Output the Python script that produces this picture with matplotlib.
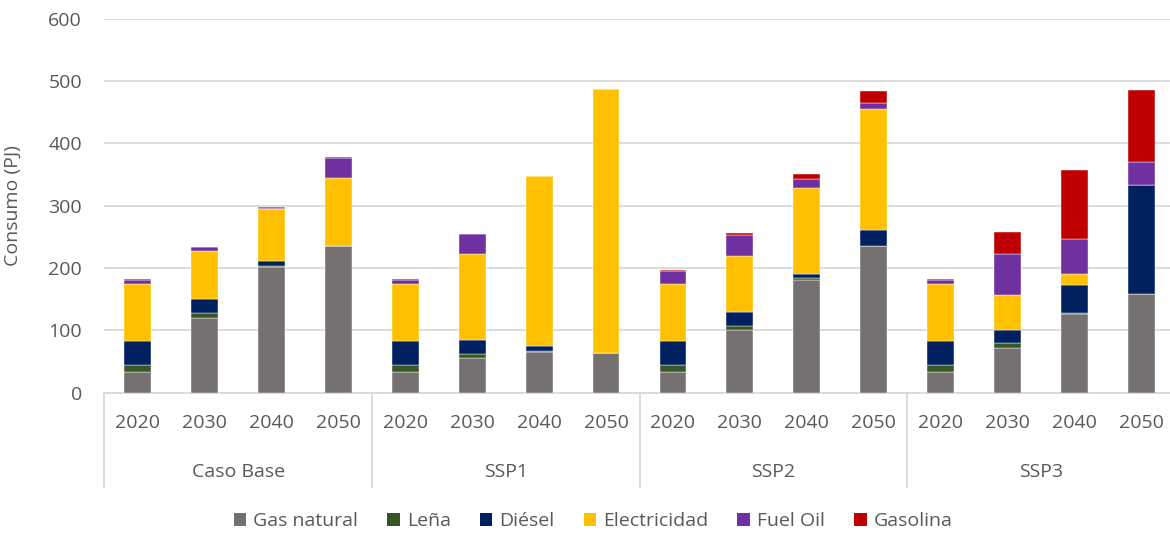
import matplotlib
matplotlib.use("Agg")
import matplotlib.pyplot as plt
from matplotlib.patches import Patch
from matplotlib.lines import Line2D
import numpy as np

plt.rcParams['font.family'] = ['Open Sans', 'DejaVu Sans']

# Scenarios and years on the two-level category axis
scenarios = ["Caso Base", "SSP1", "SSP2", "SSP3"]
years = ["2020", "2030", "2040", "2050"]

# Consumption by fuel (PJ), one value per scenario-year, in axis order
gas_natural = [33, 120, 201, 235, 33, 55, 65, 63, 33, 100, 181, 235, 33, 72, 126, 158]
lena = [11, 7, 3, 0, 11, 7, 2, 0, 11, 7, 3, 0, 11, 7, 1, 0]
diesel = [38, 23, 7, 0, 38, 23, 7, 0, 38, 23, 7, 26, 38, 22, 45, 176]
electricidad = [93, 78, 83, 110, 93, 138, 273, 424, 93, 89, 137, 195, 93, 56, 19, 0]
fuel_oil = [5, 5, 3, 31, 5, 31, 1, 0, 20, 34, 15, 9, 5, 65, 55, 37]
gasolina = [3, 1, 1, 2, 3, 1, 0.5, 0, 2, 3, 8, 20, 3, 36, 111, 115]

series = [
    ("Gas natural", gas_natural, "#767171"),
    ("Leña", lena, "#375623"),
    ("Diésel", diesel, "#002060"),
    ("Electricidad", electricidad, "#FFC000"),
    ("Fuel Oil", fuel_oil, "#7030A0"),
    ("Gasolina", gasolina, "#C00000"),
]

W, H = 1170, 533
fig = plt.figure(figsize=(W / 100, H / 100), dpi=100)
ax_left, ax_right = 104.3, 1174.7
ax_top, ax_bot = 19.0, 392.5
ax = fig.add_axes([ax_left / W, 1 - ax_bot / H, (ax_right - ax_left) / W, (ax_bot - ax_top) / H])

text_color = "#595959"
grid_color = "#d9d9d9"
fs = 14

n = len(scenarios) * len(years)
x = np.arange(n)
bottom = np.zeros(n)
for name, vals, col in series:
    v = np.array(vals, dtype=float)
    ax.bar(x, v, width=0.40, bottom=bottom, color=col, edgecolor="white",
           linewidth=0.3, zorder=3)
    bottom += v

ax.set_xlim(-0.5, n - 0.5)
ax.set_ylim(0, 600)
ax.set_yticks(range(0, 601, 100))
ax.tick_params(axis="y", length=0, pad=16, labelsize=fs, labelcolor=text_color)
ax.set_xticks([])
for s in ["top", "right", "left"]:
    ax.spines[s].set_visible(False)
ax.spines["bottom"].set_color(grid_color)
ax.spines["bottom"].set_linewidth(1.3)
ax.grid(axis="y", color=grid_color, linewidth=1.3, zorder=0)
ax.set_axisbelow(True)

ax.set_ylabel("Consumo (PJ)", fontsize=fs, color=text_color, labelpad=10)
ax.yaxis.set_label_coords(-(ax_left - 22) / (ax_right - ax_left), 0.5)

ax_h = ax_bot - ax_top
trans = ax.get_xaxis_transform()
y_year = -(423 - ax_bot) / ax_h
y_group = -(472 - ax_bot) / ax_h
y_sep = -(487 - ax_bot) / ax_h

for i in range(n):
    ax.text(i, y_year, years[i % len(years)], transform=trans, ha="center",
            va="center", fontsize=fs, color=text_color)
for g, name in enumerate(scenarios):
    cx = g * len(years) + (len(years) - 1) / 2
    ax.text(cx, y_group, name, transform=trans, ha="center", va="center",
            fontsize=fs, color=text_color)
for g in range(len(scenarios) + 1):
    xb = g * len(years) - 0.5
    ax.add_line(Line2D([xb, xb], [0, y_sep], transform=trans, color=grid_color,
                       linewidth=1.3, clip_on=False))

handles = [Patch(facecolor=col, edgecolor="none", label=name) for name, _, col in series]
fig.legend(handles=handles, loc="center", bbox_to_anchor=(593 / W, 1 - 521 / H),
           ncol=6, frameon=False, fontsize=fs, handlelength=0.65, handleheight=0.65,
           handletextpad=0.35, columnspacing=1.5, labelcolor=text_color)

fig.savefig("out.png", dpi=100, facecolor="white")
